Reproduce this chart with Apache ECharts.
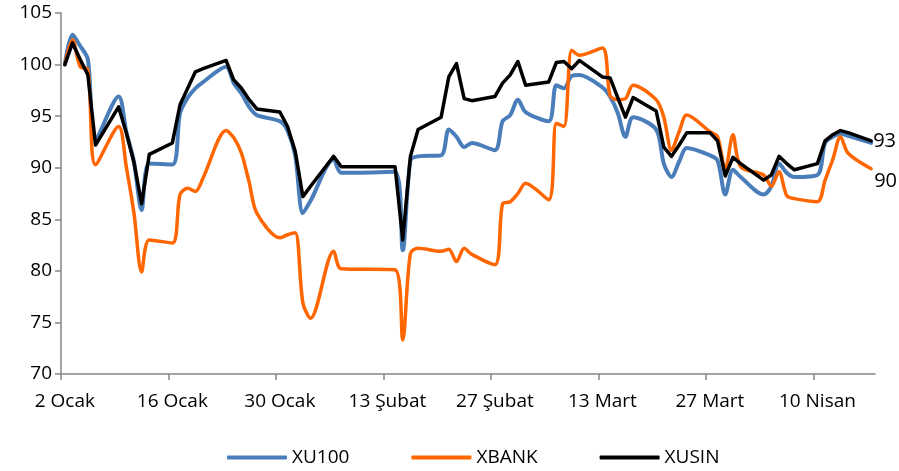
<!DOCTYPE html>
<html>
<head>
<meta charset="utf-8">
<script src="https://cdn.jsdelivr.net/npm/echarts@6/dist/echarts.min.js"></script>
<style>
html, body { margin: 0; padding: 0; background: #fff; }
#chart { width: 899px; height: 471px; }
</style>
</head>
<body>
<div id="chart"></div>
<script>
// işlem günleri: 2 Ocak 2023'ten itibaren gün sayısı
var days = [0, 1, 2, 3, 4, 7, 8, 9, 10, 11, 14, 15, 16, 17, 18, 21, 22, 23, 24, 25,
	28, 29, 30, 31, 32, 35, 36, 43, 44, 45, 46, 49, 50, 51, 52, 53, 56, 57, 58, 59, 60,
	63, 64, 65, 66, 67, 70, 71, 72, 73, 74, 77, 78, 79, 80, 81, 84, 85, 86, 87, 88,
	91, 92, 93, 94, 95, 98, 99, 100, 101, 102, 105];

var xu100 = [100.0, 102.9, 101.8, 100.5, 92.8, 96.9, 93.5, 90.6, 85.9, 90.4, 90.3, 95.3, 96.8, 97.7, 98.3, 99.8, 98.2, 97.2, 95.9, 95.1,
	94.5, 93.6, 91.2, 85.6, 86.8, 90.8, 89.5, 89.6, 82.0, 90.7, 91.1, 91.2, 93.7, 93.0, 92.0, 92.4, 91.7, 94.5, 95.1, 96.6, 95.4,
	94.5, 98.0, 97.7, 98.9, 99.0, 97.8, 96.9, 95.3, 93.0, 94.9, 93.7, 90.4, 89.1, 90.6, 91.9, 91.2, 90.7, 87.4, 89.8, 89.1,
	87.4, 88.2, 90.4, 89.5, 89.1, 89.3, 92.4, 93.0, 93.3, 93.1, 92.4];

var xbank = [100.0, 102.4, 99.8, 99.5, 90.3, 94.0, 90.1, 85.6, 79.9, 83.0, 82.7, 87.4, 88.0, 87.7, 89.0, 93.6, 92.9, 91.4, 88.6, 85.6,
	83.2, 83.5, 83.7, 76.9, 75.4, 81.9, 80.2, 80.1, 73.3, 81.7, 82.2, 81.9, 82.1, 80.9, 82.2, 81.6, 80.6, 86.5, 86.7, 87.5, 88.5,
	86.9, 94.3, 94.0, 101.4, 100.9, 101.6, 97.0, 96.6, 96.7, 98.0, 96.6, 94.9, 91.7, 93.5, 95.1, 93.5, 93.0, 89.8, 93.2, 90.1,
	89.3, 88.2, 89.6, 87.3, 87.0, 86.7, 88.8, 90.8, 93.0, 91.4, 89.9];

var xusin = [100.0, 102.1, 100.5, 99.0, 92.2, 95.9, 93.4, 90.5, 86.5, 91.3, 92.4, 96.1, 97.7, 99.3, 99.6, 100.4, 98.5, 97.7, 96.6, 95.7,
	95.4, 94.0, 91.6, 87.2, 88.2, 91.1, 90.1, 90.1, 83.0, 91.1, 93.7, 94.9, 98.8, 100.1, 96.7, 96.5, 96.9, 98.2, 99.0, 100.3, 98.0,
	98.3, 100.2, 100.3, 99.6, 100.4, 98.8, 98.7, 96.8, 94.9, 96.8, 95.5, 92.0, 91.1, 92.2, 93.4, 93.4, 92.6, 89.2, 91.0, 90.4,
	88.8, 89.3, 91.1, 90.4, 89.8, 90.4, 92.6, 93.2, 93.6, 93.4, 92.6];

var tickDays = [0, 14, 28, 42, 56, 70, 84, 98];
var tickLabels = ["2 Ocak", "16 Ocak", "30 Ocak", "13 Şubat", "27 Şubat", "13 Mart", "27 Mart", "10 Nisan"];

var FONT = '"Open Sans", sans-serif';

// gün ortasına yerleştir (Excel tarih ekseni gibi)
function pairs(vals) {
	return days.map(function(d, i) { return [d + 0.5, vals[i]]; });
}

var option = {
	animation: false,
	backgroundColor: '#fff',
	grid: {
		left: 61,
		right: 24,
		top: 13,
		bottom: 97,
		outerBoundsMode: 'none'
	},
	legend: {
		left: 222,
		top: 443,
		itemWidth: 60,
		itemHeight: 4,
		itemGap: 62,
		icon: 'roundRect',
		textStyle: { fontFamily: FONT, fontSize: 19, color: '#000' },
		data: ['XU100', 'XBANK', 'XUSIN']
	},
	xAxis: {
		type: 'value',
		min: 0,
		max: 106,
		interval: 14,
		splitLine: { show: false },
		axisLine: { lineStyle: { color: '#868686', width: 1.5 } },
		axisTick: { length: 6, customValues: tickDays, lineStyle: { color: '#868686', width: 1.5 } },
		axisLabel: {
			// etiketler gün ortasında
			customValues: tickDays.map(function(d) { return d + 0.5; }),
			margin: 18,
			alignMinLabel: 'center',
			hideOverlap: false,
			fontFamily: FONT,
			fontSize: 19,
			color: '#000',
			formatter: function(v) {
				var i = tickDays.indexOf(Math.round(v - 0.5));
				return i >= 0 ? tickLabels[i] : '';
			}
		}
	},
	yAxis: {
		type: 'value',
		min: 70,
		max: 105,
		interval: 5,
		splitLine: { show: false },
		axisLine: { show: true, lineStyle: { color: '#868686', width: 1.5 } },
		axisTick: { show: true, length: 6, lineStyle: { color: '#868686', width: 1.5 } },
		axisLabel: { margin: 9, fontFamily: FONT, fontSize: 19, color: '#000' }
	},
	series: [{
		name: 'XU100',
		type: 'line',
		data: pairs(xu100),
		symbol: 'none',
		smooth: 0.3,
		color: '#4A7EBB',
		lineStyle: { width: 4, color: '#4A7EBB', cap: 'round', join: 'round' }
	}, {
		name: 'XBANK',
		type: 'line',
		data: pairs(xbank),
		symbol: 'none',
		smooth: 0.3,
		color: '#FF6600',
		lineStyle: { width: 3.5, color: '#FF6600', cap: 'round', join: 'round' },
		endLabel: {
			show: true,
			distance: 3,
			offset: [0, 13],
			fontFamily: FONT,
			fontSize: 20,
			color: '#000',
			formatter: function(p) { return Math.round(p.value[1]); }
		}
	}, {
		name: 'XUSIN',
		type: 'line',
		data: pairs(xusin),
		symbol: 'none',
		color: '#000',
		lineStyle: { width: 3.5, color: '#000', cap: 'round', join: 'round' },
		endLabel: {
			show: true,
			distance: 2,
			fontFamily: FONT,
			fontSize: 20,
			color: '#000',
			formatter: function(p) { return Math.round(p.value[1]); }
		}
	}]
};

var myChart = echarts.init(document.getElementById('chart'));
myChart.setOption(option);
</script>
</body>
</html>
